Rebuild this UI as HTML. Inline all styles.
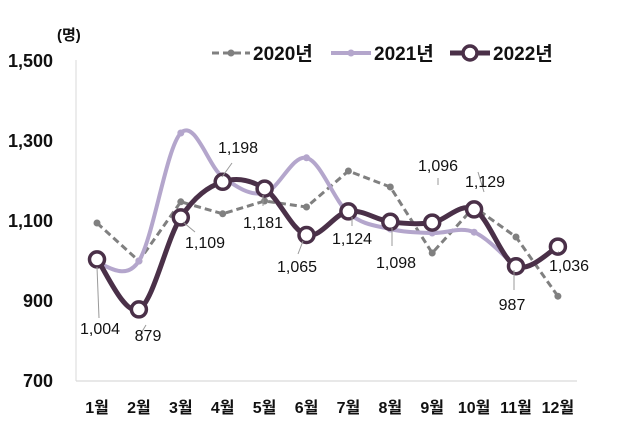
<!DOCTYPE html>
<html><head><meta charset="utf-8"><style>
body{margin:0;background:#fff;width:635px;height:441px;overflow:hidden}
svg text{font-family:"Liberation Sans","Noto Sans CJK KR",sans-serif;fill:#111}
</style></head><body>
<svg id="c" width="635" height="441" viewBox="0 0 635 441">
<line x1="76" y1="60" x2="76" y2="381" stroke="#d9d9d9" stroke-width="1"/>
<line x1="76" y1="381" x2="577" y2="381" stroke="#d9d9d9" stroke-width="1.2"/>
<g font-size="18" font-weight="bold" text-anchor="end">
<text x="53" y="67">1,500</text><text x="53" y="147">1,300</text><text x="53" y="227">1,100</text><text x="53" y="307">900</text><text x="53" y="387">700</text>
</g>
<text x="57" y="40" font-size="15" font-weight="bold">(명)</text>
<g font-size="19" font-weight="bold">
<line x1="212" y1="53" x2="250" y2="53" stroke="#808080" stroke-width="3" stroke-dasharray="7,4"/><circle cx="231" cy="53" r="3.5" fill="#808080"/>
<text x="253" y="60">2020년</text>
<line x1="331" y1="53" x2="371" y2="53" stroke="#b4a6cc" stroke-width="4"/><circle cx="351" cy="53" r="3.5" fill="#b4a6cc"/>
<text x="374" y="60">2021년</text>
<line x1="450" y1="53" x2="490" y2="53" stroke="#4a3048" stroke-width="5"/><circle cx="470" cy="53" r="7" fill="#fff" stroke="#4a3048" stroke-width="3.5"/>
<text x="493" y="60">2022년</text>
</g>
<g id="g"></g>
<g font-size="16" font-weight="bold" text-anchor="middle" id="xl"></g>
<g font-size="16" text-anchor="middle">
<text x="100" y="334">1,004</text><text x="148" y="341">879</text><text x="205" y="248">1,109</text><text x="238" y="153">1,198</text><text x="263" y="228">1,181</text><text x="297" y="272">1,065</text><text x="352" y="244">1,124</text><text x="396" y="268">1,098</text><text x="438" y="171">1,096</text><text x="485" y="187">1,129</text><text x="512" y="310">987</text><text x="569" y="271">1,036</text>
</g>
</svg>
<script>
var X=i=>97+i*41.9,Y=v=>381-(v-700)*0.4;
var d20=[1095,1000,1148,1118,1150,1135,1225,1185,1020,1135,1060,912];
var d21=[995,1000,1320,1210,1170,1258,1120,1080,1070,1072,985];
var d22=[1004,879,1109,1198,1181,1065,1124,1098,1096,1129,987,1036];
function sm(a){var p=a.map((v,i)=>[X(i),Y(v)]),s="M"+p[0];for(var i=0;i<p.length-1;i++){var p0=p[i-1]||p[i],p1=p[i],p2=p[i+1],p3=p[i+2]||p2,t=0.17;s+=" C"+(p1[0]+(p2[0]-p0[0])*t)+","+(p1[1]+(p2[1]-p0[1])*t)+" "+(p2[0]-(p3[0]-p1[0])*t)+","+(p2[1]-(p3[1]-p1[1])*t)+" "+p2;}return s;}
var g="";
g+='<polyline points="'+d20.map((v,i)=>X(i)+","+Y(v)).join(" ")+'" fill="none" stroke="#808080" stroke-width="3" stroke-dasharray="7,4"/>';
d20.forEach((v,i)=>g+='<circle cx="'+X(i)+'" cy="'+Y(v)+'" r="3.5" fill="#808080"/>');
g+='<path d="'+sm(d21)+'" fill="none" stroke="#b4a6cc" stroke-width="4"/>';
d21.forEach((v,i)=>g+='<circle cx="'+X(i)+'" cy="'+Y(v)+'" r="3.5" fill="#b4a6cc"/>');
g+='<path d="'+sm(d22)+'" fill="none" stroke="#4a3048" stroke-width="5"/>';
d22.forEach((v,i)=>g+='<circle cx="'+X(i)+'" cy="'+Y(v)+'" r="7.5" fill="#fff" stroke="#4a3048" stroke-width="3.5"/>');
var L=[[97,267,99,318],[140,335,146,325],[183,222,195,232],[222,177,232,163],[263,195,263,206],[303,241,298,254],[352,217,352,226],[392,228,392,246],[438,178,438,185],[478,172,484,192],[514,270,514,290],[558,252,559,252]];
L.forEach(l=>g+='<line x1="'+l[0]+'" y1="'+l[1]+'" x2="'+l[2]+'" y2="'+l[3]+'" stroke="#999" stroke-width="1"/>');
document.getElementById("g").innerHTML=g;
var x="";for(var i=0;i<12;i++)x+='<text x="'+X(i)+'" y="413">'+(i+1)+'월</text>';
document.getElementById("xl").innerHTML=x;
</script>
</body></html>
